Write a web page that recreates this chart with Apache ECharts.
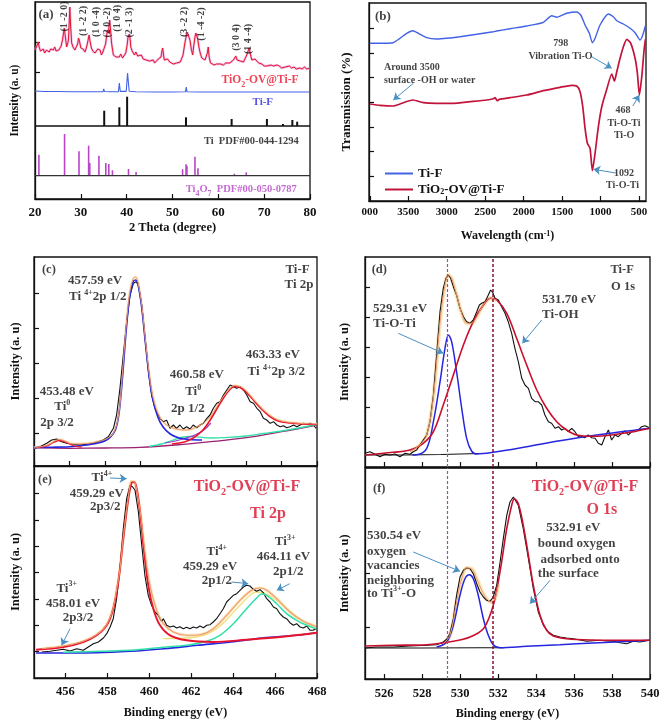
<!DOCTYPE html>
<html><head><meta charset="utf-8">
<script src="https://cdn.jsdelivr.net/npm/echarts/dist/echarts.min.js"></script>
<style>html,body{margin:0;padding:0;background:#fff}#c{width:661px;height:724px}</style>
</head><body><div id="c"></div>
<script>
// ---------- DATA ----------
// (a) XRD, intensity in arbitrary units
const xrdComposite = [[20.0,149],[20.3,151],[20.5,154],[20.7,157],[20.9,152],[21.2,148],[21.5,147],[21.8,150],[22.1,146],[22.5,149],[22.8,151],[23.1,147],[23.4,150],[23.7,148],[24.0,149],[24.3,152],[24.6,148],[24.9,150],[25.2,149],[25.4,151],[25.7,153],[26.0,159],[26.2,165],[26.4,171],[26.6,163],[26.9,152],[27.1,155],[27.3,159],[27.5,180],[27.6,192],[27.75,175],[28.0,156],[28.3,152],[28.7,149],[29.0,151],[29.3,155],[29.5,161],[29.7,158],[30.0,151],[30.2,149],[30.5,150],[30.9,147],[31.2,151],[31.5,157],[31.8,164],[32.0,158],[32.3,151],[32.6,148],[32.9,150],[33.1,146],[33.4,148],[33.7,150],[34.0,152],[34.2,149],[34.5,144],[34.8,147],[35.2,149],[35.4,155],[35.6,162],[35.8,169],[36.0,166],[36.3,179],[36.5,168],[36.7,156],[36.9,150],[37.1,144],[37.4,146],[37.7,142],[38.0,144],[38.4,142],[38.7,145],[39.1,141],[39.4,143],[39.8,146],[40.1,154],[40.3,162],[40.6,165],[40.8,158],[40.9,152],[41.2,148],[41.5,146],[41.7,144],[42.0,147],[42.4,143],[42.8,142],[43.2,144],[43.6,140],[44.0,142],[44.3,139],[44.7,141],[45.0,138],[45.4,140],[45.8,139],[46.1,136],[46.5,137],[46.9,140],[47.2,138],[47.5,142],[47.7,148],[47.85,151],[48.0,146],[48.2,139],[48.5,138],[48.9,140],[49.4,137],[49.8,138],[50.2,135],[50.6,137],[50.9,136],[51.3,138],[51.7,137],[52.0,139],[52.3,144],[52.5,150],[52.7,156],[53.0,163],[53.2,167],[53.5,163],[53.8,159],[54.1,150],[54.4,144],[54.6,152],[54.9,162],[55.1,166],[55.3,167],[55.5,160],[55.8,151],[56.1,145],[56.4,141],[56.8,142],[57.1,139],[57.4,141],[57.6,146],[57.8,152],[58.0,142],[58.3,136],[58.7,137],[59.1,134],[59.6,135],[60.0,133],[60.5,135],[61.1,134],[61.6,136],[62.0,134],[62.5,136],[62.9,138],[63.3,139],[63.6,141],[63.8,143],[64.1,139],[64.4,137],[64.8,138],[65.1,136],[65.5,137],[65.8,140],[66.2,144],[66.5,148],[66.7,151],[67.0,145],[67.3,139],[67.6,141],[68.0,140],[68.4,138],[68.8,136],[69.1,134],[69.5,135],[70.0,133],[70.3,135],[70.6,133],[71.0,132],[71.5,134],[72.0,133],[72.4,132],[72.8,134],[73.3,133],[73.8,131],[74.2,133],[74.6,132],[75.0,132],[75.5,133],[76.0,131],[76.5,132],[77.0,130],[77.4,132],[77.8,131],[78.3,130],[78.8,132],[79.3,130],[80.0,131]];
const xrdTiF = [[20,108],[22,107.5],[25,107.5],[28,107.3],[31,107.3],[34,107.2],[34.85,107.4],[35.0,110],[35.15,107.5],[36.5,107.2],[38.2,107.4],[38.4,116],[38.6,107.6],[39.9,107.6],[40.1,120],[40.2,126],[40.35,118],[40.55,107.8],[42,107.2],[46,107],[50,107],[52.85,107.3],[53.0,112],[53.15,107.3],[56,107],[62,107],[70.55,107],[70.7,109],[70.85,107],[76.05,107],[76.2,109],[76.35,107],[80,107]];
const tiPdfBase = 73;
const tiPdfX   = [35.1, 38.4, 40.1, 52.95, 62.9, 70.6, 74.1, 76.15, 77.2];
const tiPdfTop = [88.3, 91.7, 102.3, 81.7, 80, 80, 75, 79, 77.3];
const ti4o7Base = 23.3;
const ti4o7X   = [20.85, 26.45, 29.6, 31.7, 31.95, 33.95, 35.45, 36.1, 36.9, 40.4, 42.05, 52.2, 52.95, 53.15, 54.9, 55.55, 63.5, 66.1];
const ti4o7Top = [44.3, 65, 47.7, 53.3, 36, 43.3, 36, 35, 28.7, 30, 27, 29.7, 34.7, 33.3, 42.3, 30.7, 25.3, 26.7];
const millerLabels = ['(1 -2 0)','(1 -2 2)','(1 0 -4)','(2 0 -2)','(1 0 4)','(2 -1 3)','(3 -2 2)','(1 -4 -2)','(3 0 4)','(1 4 -4)'];
const millerX = [26.5, 30.5, 33.5, 35.7, 37.9, 40.5, 52.7, 56.4, 63.9, 66.5];
const millerY = [182.5, 178, 177, 176.5, 180.7, 176.5, 177, 175, 161.5, 160];

// (b) FTIR, wavenumber (cm-1) vs transmission (a.u.)
const ftirTiF = [[4000,157.7],[3867,157.7],[3698,158.3],[3607,162.7],[3520,167.7],[3442,170.3],[3369,167.7],[3260,163.3],[3130,162],[3000,162.7],[2827,164.3],[2610,166.7],[2394,169.3],[2350,170],[2177,172.3],[1960,175],[1744,178.7],[1635,185.3],[1570,183.7],[1440,187.7],[1310,189],[1258,186],[1202,176],[1146,167.7],[1107,158.3],[1072,162.7],[1007,176],[899,187],[834,184.3],[790,180.3],[704,177],[617,172.7],[552,168.3],[487,161],[452,166],[418,175.3]];
const ftirTiO2 = [[4000,97],[3867,95.7],[3698,95],[3607,97],[3442,101],[3304,98.3],[3130,97.7],[2914,97.7],[2697,99.3],[2480,101],[2394,102.3],[2372,103.3],[2342,100.3],[2316,101.7],[2177,103.3],[1960,106],[1744,110.3],[1527,113.7],[1375,115.7],[1310,115],[1267,109.3],[1232,94.3],[1202,72.7],[1172,57.7],[1137,52.7],[1107,30.3],[1072,47.7],[1029,74.3],[985,94.3],[920,111.7],[855,127],[820,120],[790,129.3],[747,142.7],[704,154.3],[660,161.7],[608,157.7],[552,142.7],[522,127.7],[496,106],[465,124.3],[435,151],[418,161.7]];
const ftirTicks = [4000,3500,3000,2500,2000,1500,1000,500];

// (c) Ti-F Ti 2p
const c_data = [[452.06,17.7],[452.34,19.3],[452.72,22.7],[453.0,26],[453.28,27],[453.56,24.3],[453.85,22.7],[454.22,21.7],[454.6,21],[454.98,21.7],[455.35,22.7],[455.63,24.3],[455.92,26],[456.2,29.3],[456.49,37.7],[456.67,51],[456.86,77.7],[457.05,111],[457.24,144.3],[457.43,171],[457.62,182.7],[457.77,184.3],[457.9,181],[458.09,161],[458.28,127.7],[458.47,94.3],[458.65,71],[458.84,57.7],[458.93,59.3],[459.12,47.7],[459.31,44.3],[459.5,45.7],[459.69,37.7],[459.88,41],[460.06,37.7],[460.25,41],[460.44,37],[460.63,39.3],[460.82,37],[461.0,41],[461.2,38.3],[461.39,41],[461.58,42.7],[461.77,47.7],[461.95,51],[462.14,57.7],[462.33,62.7],[462.52,64.3],[462.71,71],[462.9,76],[463.09,81],[463.28,79.3],[463.46,77.7],[463.65,79.3],[463.84,76],[464.03,71],[464.22,64.3],[464.41,62.7],[464.6,57.7],[464.79,54.3],[464.97,47.7],[465.16,46],[465.35,42.7],[465.54,44.3],[465.73,41],[465.92,39.3],[466.1,40.3],[466.29,38.3],[466.48,39.3],[466.67,41],[466.86,39.3],[467.05,41],[467.24,42.7],[467.43,41.7],[467.62,42.7],[467.8,41],[467.95,37.7]];
const c_bg = [[452,18.3],[454,17.7],[456,18],[458,18.7],[460,21],[462,24.3],[464,28.3],[466,34.3],[468,41]];
const c_blue = [[452,18.5],[453,18.8],[454,19.3],[455,21],[455.5,22.5],[456,25],[456.3,28.5],[456.6,36],[456.8,52],[457.0,88],[457.2,133],[457.4,168],[457.6,184],[457.75,186],[457.9,180],[458.1,157],[458.3,123],[458.5,91],[458.7,68],[459.0,49],[459.3,39],[459.7,32],[460.2,28],[460.8,26.5],[461.5,26]];
const c_red = [[459.8,22],[460.5,24],[461,28],[461.5,35],[462,47],[462.5,62],[463,75],[463.35,79.5],[463.8,77],[464.3,68],[464.8,58],[465.3,50],[465.8,45],[466.5,43],[467.2,42],[468,41.5]];
const c_red0 = [[452.2,18.4],[452.7,20],[453.1,23.5],[453.45,25.5],[453.8,23.8],[454.2,20.5],[454.7,18.8]];
const c_teal = [[458.5,19.5],[459.2,22],[459.8,25.5],[460.3,28.5],[460.8,29.5],[461.4,28.8],[462,28],[463,28.6],[464,30],[465,32.5],[466,35],[467,38],[468,41.5]];
const c_purple = [[459.4,23],[460,25],[460.6,28],[461.1,31],[461.6,36],[462,43]];
const c_env = [[452,18.5],[452.7,20.5],[453.45,26.5],[454.2,22],[455,22.5],[455.5,24],[456,26.5],[456.5,33],[456.8,53],[457,93],[457.2,138],[457.4,172],[457.6,187],[457.75,189],[457.9,182],[458.1,160],[458.3,126],[458.5,94],[458.7,71],[459,53],[459.3,44],[459.7,39],[460.2,36.5],[460.6,36],[461,37.5],[461.5,42],[462,50],[462.5,64],[463,76],[463.35,80.5],[463.8,78],[464.3,69],[464.8,59],[465.3,51],[465.8,46],[466.5,43.5],[467.2,42.5],[468,42]];

// (d) Ti-F O 1s
const d_data = [[525.0,13.7],[525.26,15.3],[525.53,12.7],[525.79,10.3],[526.05,12.7],[526.32,12],[526.58,13],[526.84,10.3],[527.11,13.7],[527.37,12.7],[527.54,15.3],[527.72,17],[527.89,22],[528.07,27],[528.25,32],[528.42,45.3],[528.6,72],[528.77,112],[528.95,155.3],[529.12,178.7],[529.26,188.7],[529.39,192],[529.51,188.7],[529.65,180.3],[529.82,172],[530.0,158.7],[530.18,150.3],[530.35,145.3],[530.53,143.7],[530.7,147],[530.88,155.3],[531.02,162],[531.14,163.7],[531.32,165.3],[531.49,172],[531.61,177],[531.72,174.7],[531.84,168.7],[532.02,167],[532.19,160.3],[532.37,153.7],[532.54,145.3],[532.72,133.7],[532.89,118.7],[533.07,105.3],[533.25,88.7],[533.42,82],[533.6,78.7],[533.77,68.7],[533.95,65.3],[534.12,65.3],[534.3,62],[534.47,52],[534.65,45.3],[534.82,43.7],[535.0,38.7],[535.18,40.3],[535.35,37],[535.53,38.7],[535.7,35.3],[535.88,38.7],[536.05,35.3],[536.23,30.3],[536.4,30.3],[536.58,29.3],[536.75,32],[536.93,29.3],[537.11,28.7],[537.28,23.7],[537.46,22],[537.63,30.3],[537.81,37],[537.98,27],[538.16,32],[538.33,30.3],[538.51,33.7],[538.68,36],[538.86,32],[539.04,35.3],[539.21,35.3],[539.39,37],[539.56,40.3],[539.74,41.3],[539.96,39.3]];
const d_bgBlack = [[525,12],[527,12],[529,12.5],[531,13.5]];
const d_blue = [[527.5,12],[527.72,12.2],[528.25,18.7],[528.6,45.3],[528.95,85.3],[529.21,118.7],[529.39,132],[529.56,125.3],[529.82,95.3],[530.09,58.7],[530.35,28.7],[530.61,16],[530.88,13],[531.75,14.7],[533.51,20.3],[535.26,26.3],[537.02,31.5],[540,38.7]];
const d_red = [[525,12],[526.49,14.7],[527.37,17],[528.07,23.7],[528.6,35.3],[529.12,62],[529.65,92],[530.18,122],[530.7,145.3],[531.23,162],[531.61,168.7],[531.93,167],[532.46,153.7],[532.98,128.7],[533.51,102],[534.04,77],[534.56,58.7],[535.09,45.3],[535.61,37],[536.14,32],[537.02,30.7],[538.77,34.3],[540,38.7]];
const d_env = [[527.37,15.3],[527.89,22],[528.25,32],[528.6,70],[528.95,145],[529.21,182],[529.39,192],[529.56,188.7],[529.82,172],[530.09,153.7],[530.35,143.7],[530.61,143.7],[530.88,150.3],[531.23,162],[531.61,168.7],[531.93,167]];

// (e) TiO2-OV@Ti-F Ti 2p
const e_data = [[454.87,26],[455.26,26.7],[455.58,27.7],[455.9,28.7],[456.22,27],[456.54,29.3],[456.85,27.7],[457.09,31],[457.33,34.3],[457.57,36],[457.81,40],[457.97,44.3],[458.13,51],[458.28,59.3],[458.44,79.3],[458.6,109.3],[458.76,149.3],[458.92,179.3],[459.08,192.7],[459.21,191],[459.32,187.7],[459.48,166],[459.64,132.7],[459.79,102.7],[459.95,82.7],[460.11,72.7],[460.27,66],[460.43,62.7],[460.51,59.3],[460.59,56.7],[460.67,59.3],[460.83,52.7],[460.99,51],[461.15,52],[461.31,50],[461.46,51.3],[461.62,49.3],[461.78,50.7],[461.94,49.3],[462.1,51],[462.26,50],[462.42,52],[462.58,50.3],[462.74,52.7],[462.9,53.3],[463.05,56],[463.21,59.3],[463.37,64.3],[463.53,69.3],[463.69,76],[463.85,79.3],[464.01,82.7],[464.17,84.3],[464.33,87.7],[464.49,91],[464.64,92.7],[464.8,92],[464.93,89.3],[465.12,86.7],[465.28,88.3],[465.44,85.3],[465.6,79.3],[465.76,76],[465.92,71],[466.08,69.3],[466.23,64.3],[466.39,61],[466.55,59.3],[466.71,55.3],[466.87,52.7],[467.03,54.3],[467.19,51],[467.35,50],[467.51,52],[467.67,47.7],[467.82,47.7],[467.95,49.3]];
const e_bg = [[454.6,25],[457.5,25.3],[459.1,26.7],[460.7,29.3],[462.3,32.7],[463.9,36],[465.4,40],[467,42.7],[468,45.3]];
const e_red = [[454.6,28.3],[455.9,31],[456.85,36],[457.49,42.7],[457.97,52.7],[458.28,69.3],[458.52,96],[458.76,139.3],[459.0,179.3],[459.16,195.3],[459.27,196],[459.4,189.3],[459.56,166],[459.72,132.7],[459.95,92.7],[460.19,69.3],[460.51,52.7],[460.99,42.7],[461.78,37.7],[463.05,36],[464.64,38.3],[466.23,41],[468,45.3]];
const e_teal = [[455.9,25.7],[459.08,27.7],[460.67,30.7],[461.94,33.3],[462.74,36.7],[463.37,42.7],[464.01,54.3],[464.64,69.3],[465.12,80],[465.36,84],[465.6,82.7],[466.08,74.3],[466.55,64.3],[467.03,57.7],[467.51,52.7],[467.95,49.3]];
const e_yellow = [[460.67,39.3],[462.26,41],[463.21,49.3],[464.17,69.3],[464.8,82.7],[465.1,86],[465.4,85.5],[465.76,82],[466.39,72.7],[467.03,61],[467.95,50.3]];
const e_env = [[454.87,29.3],[456.85,36.7],[457.97,53.3],[458.52,97.7],[458.76,141],[459.0,181],[459.16,196.7],[459.32,195.3],[459.56,167.7],[459.79,126],[460.03,92.7],[460.35,67.7],[460.67,54.3],[461.15,46],[461.78,42.7],[462.42,43.3],[463.05,49.3],[463.69,62.7],[464.33,77.7],[464.88,87.7],[465.28,90],[465.6,87.7],[466.08,79.3],[466.71,66],[467.35,56.7],[467.95,51.7]];

// (f) TiO2-OV@Ti-F O 1s
const f_data = [[525.0,31],[525.61,32],[526.49,32],[527.37,33],[528.25,33.7],[528.77,34.3],[529.12,37],[529.3,39.7],[529.47,45.3],[529.65,60.3],[529.82,83.7],[530.0,102],[530.18,108.7],[530.35,111],[530.53,110.3],[530.7,105.3],[530.88,95.3],[531.05,87],[531.23,82],[531.4,78.7],[531.58,77.7],[531.75,82],[531.93,93.7],[532.11,117],[532.28,140.3],[532.46,163.7],[532.63,177],[532.81,182],[532.89,181],[533.07,173.7],[533.33,150.3],[533.6,120.3],[533.86,90.3],[534.12,67],[534.39,53.7],[534.65,47],[534.91,43.7],[535.26,42],[535.61,41],[535.96,40.3],[536.32,39],[536.67,37.7],[537.02,38.3],[537.37,38.7],[537.72,38],[538.07,37.7],[538.42,36.3],[538.77,35.3],[539.12,37.7],[539.47,37],[539.96,38.7]];
const f_bgBlack = [[525,31],[528,31],[531,31.2],[532.3,31.3]];
const f_blue = [[528.77,32],[529.3,37],[529.65,53.7],[530.0,83.7],[530.26,100.3],[530.49,104.3],[530.7,100.3],[530.96,83.7],[531.23,60.3],[531.49,43.7],[531.75,34.3],[532.11,31.3],[533.51,32.7],[535.26,34.3],[537.02,36],[540,38.7]];
const f_red = [[525,33],[526.49,33.7],[528.25,34.3],[529.65,37.7],[530.53,42],[531.23,50.3],[531.67,68.7],[531.93,88.7],[532.19,117],[532.46,150.3],[532.72,173.7],[532.86,180.3],[533.07,175.3],[533.33,153.7],[533.6,123.7],[533.86,93.7],[534.21,63.7],[534.56,48.7],[534.91,43],[535.61,40.3],[537.02,39],[538.77,38.7],[540,38.7]];
const f_env = [[529.12,35.3],[529.47,43.7],[529.82,77],[530.09,100.3],[530.35,111],[530.61,110.3],[530.88,100.3],[531.14,88.7],[531.4,80.3],[531.67,77],[531.84,80.3],[532.02,95]];
const o1sGuides = [529.31, 531.70];
const bindTicksTi = [456,458,460,462,464,466,468];
const bindTicksO = [526,528,530,532,534,536,538,540];

// ---------- STYLE ----------
const FONT = '"Liberation Serif","Times New Roman",serif';
const COL = {red:'#e8142c', ftirRed:'#c2143a', darkRed:'#c8102e', blue:'#2626e0', tiF:'#4262e6', magenta:'#b845c8', teal:'#2fe0a8', purple:'#9a3cc8', orange:'#ee9a78', glow:'#fbe6b6', arrow:'#4b90c2', yellow:'#f1e07a', crimson:'#d8102c'};
const RICH = {
  sup:{fontSize:8,lineHeight:8,verticalAlign:'top'},
  sub:{fontSize:8,lineHeight:8,verticalAlign:'bottom'},
  supB:{fontSize:10,lineHeight:10,verticalAlign:'top'},
  subB:{fontSize:10,lineHeight:10,verticalAlign:'bottom'}
};

const grids = [
  {left:35, top:2, width:275, height:197},
  {left:369, top:3, width:277, height:198},
  {left:34, top:257, width:283, height:209},
  {left:365, top:257, width:285, height:210},
  {left:34, top:466, width:283, height:212},
  {left:365, top:468, width:285, height:211}
].map(g => Object.assign(g, {show:true, borderColor:'#111', borderWidth:1.3, backgroundColor:'#fff', outerBoundsMode:'none', containLabel:false}));

function xAx(gi, o) {
  return Object.assign({type:'value', gridIndex:gi, splitLine:{show:false},
    axisLine:{show:true, lineStyle:{color:'#111', width:1.3}},
    axisTick:{show:true, inside:true, length:5, lineStyle:{color:'#111', width:1.2}},
    axisLabel:{show:false},
    nameLocation:'middle',
    nameTextStyle:{fontFamily:FONT, fontWeight:'bold', fontSize:12, color:'#111', rich:RICH}}, o);
}
function yAx(gi, max, ticks, name, gap, fs) {
  return {type:'value', gridIndex:gi, min:0, max:max, splitLine:{show:false},
    axisLine:{show:true, lineStyle:{color:'#111', width:1.3}},
    axisTick:{show:true, inside:true, length:5, customValues:ticks, lineStyle:{color:'#111', width:1.2}},
    axisLabel:{show:false},
    name:name, nameLocation:'middle', nameRotate:90, nameGap:gap,
    nameTextStyle:{fontFamily:FONT, fontWeight:'bold', fontSize:fs, color:'#111'}};
}
const lblStyle = (fs, m) => ({show:true, fontFamily:FONT, fontWeight:'bold', fontSize:fs, color:'#111', margin:m});

const xAxes = [
  xAx(0, {min:20, max:80, interval:10, axisLabel:lblStyle(13,7), name:'2 Theta (degree)', nameGap:22, nameTextStyle:{fontFamily:FONT, fontWeight:'bold', fontSize:12.5, color:'#111'}}),
  xAx(1, {min:410, max:4010, inverse:true,
    axisTick:{show:true, inside:true, length:5, customValues:ftirTicks, lineStyle:{color:'#111', width:1.2}},
    axisLabel:Object.assign(lblStyle(11,6), {customValues:ftirTicks, formatter:v => (v===4000 ? '000' : String(v))}),
    name:'Wavelength (cm{sup|-1})', nameGap:29}),
  xAx(2, {min:452, max:468, interval:2}),
  xAx(3, {min:525, max:540, axisTick:{show:true, inside:true, length:5, customValues:bindTicksO, lineStyle:{color:'#111', width:1.2}}}),
  xAx(4, {min:454.5, max:468,
    axisTick:{show:true, inside:true, length:5, customValues:bindTicksTi, lineStyle:{color:'#111', width:1.2}},
    axisLabel:Object.assign(lblStyle(12.5,7), {customValues:bindTicksTi}),
    name:'Binding energy (eV)', nameGap:29}),
  xAx(5, {min:525, max:540,
    axisTick:{show:true, inside:true, length:5, customValues:bindTicksO, lineStyle:{color:'#111', width:1.2}},
    axisLabel:Object.assign(lblStyle(12.5,8), {customValues:bindTicksO}),
    name:'Binding energy (eV)', nameGap:29})
];
const yAxes = [
  yAx(0, 197, [127,157], 'Intensity (a. u)', 14, 11.5),
  yAx(1, 198, [24.7,49.4,74.1,98.8,123.5,148.2,172.9], 'Transmission (%)', 16, 13),
  yAx(2, 209, [33,68,103,138,173], 'Intensity (a. u)', 12, 12.5),
  yAx(3, 210, [30,60,90,120,150,180], 'Intensity (a. u)', 14, 12.5),
  yAx(4, 212, [26.3,52.7,79,105.3,131.7,158,184.3], 'Intensity (a. u)', 12, 12.5),
  yAx(5, 211, [51.5,106,160.5], 'Intensity (a. u)', 14, 12.5)
];

// ---------- SERIES HELPERS ----------
let uid = 0;
function line(gi, data, color, width, extra) {
  return Object.assign({type:'line', name:'s'+(uid++), xAxisIndex:gi, yAxisIndex:gi, data:data,
    symbol:'none', showSymbol:false, silent:true, animation:false,
    lineStyle:{color:color, width:width}, itemStyle:{color:color}, z:2}, extra || {});
}
function fit(gi, data, color, width, extra) {
  return line(gi, data, color, width, Object.assign({smooth:0.35}, extra || {}));
}
function sticks(gi, xs, tops, base, color, width) {
  return {type:'custom', name:'s'+(uid++), xAxisIndex:gi, yAxisIndex:gi, silent:true, animation:false,
    data: xs.map((x, i) => [x, base, tops[i]]),
    encode:{x:0, y:[1,2]},
    renderItem:(params, api) => {
      const a = api.coord([api.value(0), api.value(1)]);
      const b = api.coord([api.value(0), api.value(2)]);
      return {type:'line', shape:{x1:a[0], y1:a[1], x2:b[0], y2:b[1]}, style:{stroke:color, lineWidth:width}};
    }};
}
function annot(gi, items, arrows) {
  const s = {type:'scatter', name:'s'+(uid++), xAxisIndex:gi, yAxisIndex:gi, symbol:'circle', symbolSize:1,
    itemStyle:{color:'rgba(0,0,0,0)'}, silent:true, animation:false, z:10,
    data: items.map(it => ({value:[it[1], it[2]], txt:it[0], label:it[3] || {}})),
    label:{show:true, position:'inside', formatter:p => p.data.txt, fontFamily:FONT, fontWeight:'bold',
      fontSize:13, lineHeight:17, color:'#111', rich:RICH}};
  if (arrows) {
    s.markLine = {silent:true, animation:false, symbol:['none','arrow'], symbolSize:7,
      label:{show:false}, lineStyle:{color:COL.arrow, width:1, type:'solid'},
      data: arrows.map(a => [{coord:a[0]}, {coord:a[1]}])};
  }
  return s;
}
const guideLines = {silent:true, animation:false, symbol:'none', label:{show:false},
  data:[{xAxis:o1sGuides[0], lineStyle:{color:'#a8489e', type:[3,2], width:1.2}},
        {xAxis:o1sGuides[1], lineStyle:{color:'#8a1032', type:[3,2], width:1.5}}]};

// ---------- ANNOTATIONS ----------
const annA = millerLabels.map((t, i) => [t, millerX[i], millerY[i], {rotate:90, fontSize:10, lineHeight:12}]).concat([
  ['(a)', 20.75, 184, {align:'left'}],
  ['TiO{sub|2}-OV@Ti-F', 69.1, 119, {color:COL.red, fontSize:11.5}],
  ['Ti-F', 69.7, 97, {color:COL.blue, fontSize:11}],
  ['Ti  PDF#00-044-1294', 67.2, 58, {fontSize:10.5}],
  ['Ti{sub|4}O{sub|7}  PDF#00-050-0787', 65, 10, {color:COL.magenta, fontSize:10.5}]
]);
const annB = [
  ['(b)', 3932, 184, {align:'left'}],
  ['798', 1518, 158, {fontSize:10}],
  ['Vibration Ti-O', 1521, 145, {fontSize:10}],
  ['Around 3500', 3815, 134, {fontSize:10, align:'left'}],
  ['surface -OH or water', 3815, 121, {fontSize:10, align:'left'}],
  ['468', 708, 91, {fontSize:10}],
  ['Ti-O-Ti', 695, 78, {fontSize:10}],
  ['Ti-O', 695, 66, {fontSize:10}],
  ['1092', 695, 28, {fontSize:10}],
  ['Ti-O-Ti', 715, 16, {fontSize:10}]
];
const arrB = [[[1115,144.3],[855,132.7]], [[3434,117.7],[3694,101]], [[582,95],[496,106]], [[800,28],[1094,31.7]]];
const annC = [
  ['(c)', 452.45, 196, {align:'left', fontSize:12.5}],
  ['457.59 eV', 455.45, 185],
  ['Ti {sup|4+}2p 1/2', 455.6, 169],
  ['Ti-F', 466.9, 196],
  ['Ti 2p', 466.98, 181],
  ['463.33 eV', 465.5, 111],
  ['Ti {sup|4+}2p 3/2', 465.7, 94],
  ['460.58 eV', 461.2, 91],
  ['Ti{sup|0}', 461.0, 74],
  ['2p 1/2', 460.7, 57],
  ['453.48 eV', 453.85, 74],
  ['Ti{sup|0}', 453.6, 59],
  ['2p 3/2', 453.3, 43]
];
const annD = [
  ['(d)', 525.35, 197, {align:'left', fontSize:12.5}],
  ['Ti-F', 538.53, 197, {fontSize:12.5}],
  ['O 1s', 538.58, 180.3, {fontSize:12.5}],
  ['529.31 eV', 525.42, 158.7, {align:'left'}],
  ['Ti-O-Ti', 525.42, 143.7, {align:'left'}],
  ['531.70 eV', 534.32, 167, {align:'left'}],
  ['Ti-OH', 534.32, 152, {align:'left'}]
];
const arrD = [[[526.75,133.7],[529.12,113.7]], [[534.3,147],[533.28,123.7]]];
const annE = [
  ['(e)', 454.69, 198, {align:'left', fontSize:12.5}],
  ['TiO{subB|2}-OV@Ti-F', 464.66, 191, {color:COL.crimson, fontSize:16, lineHeight:20}],
  ['Ti 2p', 465.66, 164, {color:COL.crimson, fontSize:16}],
  ['Ti{sup|4+}', 457.74, 200],
  ['459.29 eV', 457.5, 184],
  ['2p3/2', 457.9, 171],
  ['Ti{sup|3+}', 456.06, 89.3],
  ['458.01 eV', 456.36, 74.3],
  ['2p3/2', 456.6, 60],
  ['Ti{sup|4+}', 463.22, 126],
  ['459.29 eV', 462.9, 111],
  ['2p1/2', 463.22, 97],
  ['Ti{sup|3+}', 466.48, 136],
  ['464.11 eV', 466.4, 121],
  ['2p1/2', 466.63, 106]
];
const arrE = [[[458.13,200],[458.92,199.3]], [[456.22,49.3],[455.82,32.7]], [[463.93,96],[464.72,94.3]], [[466.7,94.3],[466.08,87.7]]];
const annF = [
  ['(f)', 525.42, 190.3, {align:'left', fontSize:12.5}],
  ['TiO{subB|2}-OV@Ti-F', 536.58, 192, {color:COL.crimson, fontSize:16, lineHeight:20}],
  ['O 1s', 537.47, 168.7, {color:COL.crimson, fontSize:16}],
  ['530.54 eV', 525.1, 143.7, {align:'left'}],
  ['oxygen', 525.1, 127.7, {align:'left'}],
  ['vacancies', 525.1, 113, {align:'left'}],
  ['neighboring', 525.1, 98.7, {align:'left'}],
  ['to Ti{sup|3+}-O', 525.1, 85.3, {align:'left'}],
  ['532.91 eV', 535.96, 151],
  ['bound oxygen', 536.14, 135.3],
  ['adsorbed onto', 536.32, 119.7],
  ['the surface', 535.7, 105.3]
];
const arrF = [[[527.54,127],[530.0,107.7]], [[534.74,98.7],[533.68,75.3]]];

// ---------- SERIES ----------
const series = [
  // (a)
  line(0, xrdComposite, '#e28ad6', 2.4, {lineStyle:{color:'#e28ad6', width:2.4, opacity:0.55}}),
  line(0, xrdComposite, COL.red, 1.0),
  line(0, xrdTiF, COL.tiF, 1.1),
  line(0, [[20,tiPdfBase],[80,tiPdfBase]], '#111', 1.4),
  sticks(0, tiPdfX, tiPdfTop, tiPdfBase, '#111', 2),
  line(0, [[20,ti4o7Base],[80,ti4o7Base]], '#333', 1.2),
  sticks(0, ti4o7X, ti4o7Top, ti4o7Base, COL.magenta, 1.6),
  annot(0, annA),
  // (b)
  line(1, ftirTiF, COL.tiF, 1.4, {name:'Ti-F', smooth:0.2}),
  line(1, ftirTiO2, COL.ftirRed, 1.7, {name:'TiO2-OV@Ti-F', smooth:0.2}),
  annot(1, annB, arrB),
  // (c)
  fit(2, c_env, COL.glow, 2.5),
  line(2, c_data, '#111', 1.1),
  fit(2, c_bg, '#9a2070', 1.3),
  fit(2, c_teal, COL.teal, 1.3),
  fit(2, c_purple, COL.purple, 1.2),
  fit(2, c_blue, COL.blue, 1.6),
  fit(2, c_red, COL.red, 1.6),
  fit(2, c_red0, COL.red, 1.3),
  fit(2, c_env, COL.orange, 1.0),
  annot(2, annC),
  // (d)
  fit(3, d_env, COL.glow, 4),
  line(3, d_data, '#111', 1.1, {markLine:guideLines}),
  line(3, d_bgBlack, '#111', 1.1),
  fit(3, d_blue, COL.blue, 1.5),
  fit(3, d_red, COL.darkRed, 1.6),
  fit(3, d_env, COL.orange, 1.0),
  annot(3, annD, arrD),
  // (e)
  fit(4, e_env, COL.glow, 3),
  fit(4, e_yellow, COL.yellow, 1.3),
  line(4, e_data, '#111', 1.1),
  fit(4, e_bg, COL.blue, 1.6),
  fit(4, e_teal, COL.teal, 1.5),
  fit(4, e_red, COL.red, 1.9),
  fit(4, e_env, COL.orange, 1.1),
  annot(4, annE, arrE),
  // (f)
  fit(5, f_env, COL.glow, 4),
  line(5, f_data, '#111', 1.1, {markLine:guideLines}),
  line(5, f_bgBlack, '#111', 1.1),
  fit(5, f_blue, COL.blue, 1.5),
  fit(5, f_red, COL.darkRed, 1.6),
  fit(5, f_env, COL.orange, 1.0),
  annot(5, annF, arrF)
];

const chart = echarts.init(document.getElementById('c'), null, {renderer:'canvas'});
chart.setOption({
  backgroundColor:'#fff',
  animation:false,
  grid:grids,
  xAxis:xAxes,
  yAxis:yAxes,
  legend:{show:true, data:['Ti-F','TiO2-OV@Ti-F'], orient:'vertical', left:380, top:162,
    itemWidth:28, itemHeight:2, itemGap:3, icon:'rect', selectedMode:false,
    formatter:n => (n === 'TiO2-OV@Ti-F' ? 'TiO{sub|2}-OV@Ti-F' : n),
    textStyle:{fontFamily:FONT, fontWeight:'bold', fontSize:13, color:'#111', rich:RICH}},
  series:series
});
</script></body></html>
